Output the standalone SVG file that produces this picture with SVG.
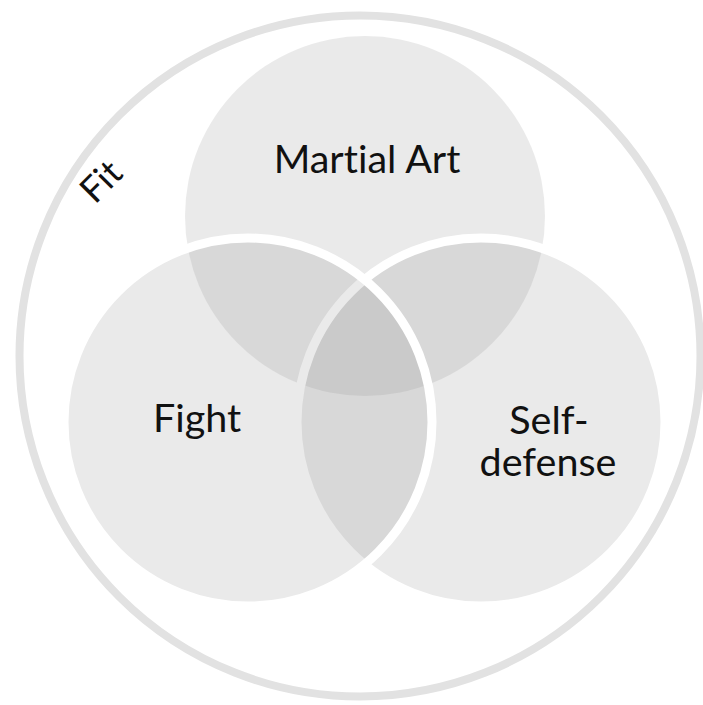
<svg xmlns="http://www.w3.org/2000/svg" width="703" height="705" viewBox="0 0 703 705">
<style>
.set{fill:#888888;fill-opacity:0.18}
.cut{stroke:#ffffff;stroke-width:9}
.lbl{font-family:Lato,"Noto Sans",sans-serif;font-size:39.5px;fill:#111111;text-anchor:middle;font-variant-ligatures:none;font-feature-settings:"liga" 0}
</style>
<rect width="703" height="705" fill="#ffffff"/>
<g id="fit">
<circle cx="360" cy="356" r="340.5" fill="none" stroke="#e2e2e2" stroke-width="8"/>
<text class="lbl" x="0" y="0" transform="translate(95,205) rotate(-45)" style="font-size:36px;text-anchor:start">Fit</text>
</g>
<g id="martial-art">
<circle class="set" cx="365" cy="216" r="180"/>
</g>
<g id="self-defense">
<circle class="set cut" cx="481" cy="422" r="184"/>
</g>
<g id="fight">
<circle class="set cut" cx="248" cy="422" r="184"/>
</g>
<g id="labels">
<text class="lbl" x="367" y="173">Martial Art</text>
<text class="lbl" x="197" y="432">Fight</text>
<text class="lbl" x="549" y="434">Self-</text>
<text class="lbl" x="548" y="476">defense</text>
</g>
<g id="connectors"/>
</svg>
